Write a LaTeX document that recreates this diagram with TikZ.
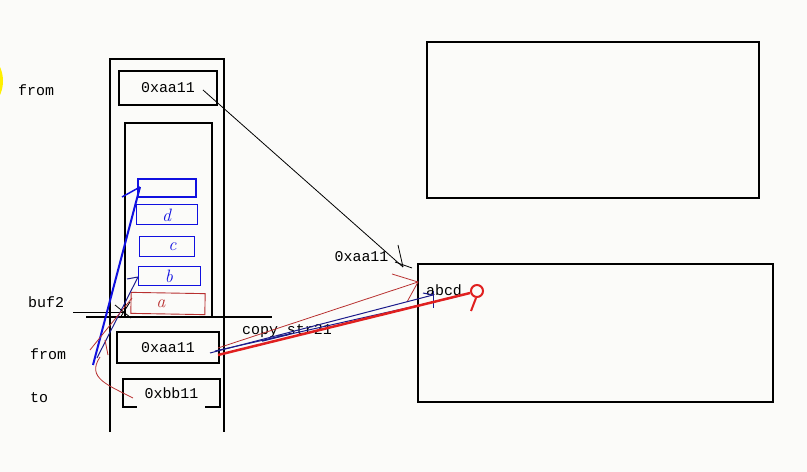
\documentclass[tikz,border=0pt]{standalone}
\usepackage{fontspec}
\setmonofont{Liberation Mono}
\begin{document}
\begin{tikzpicture}[x=1bp,y=-1bp,
  mono/.style={font=\fontsize{15}{15}\selectfont\ttfamily, inner sep=0pt},
  hand/.style={font=\fontsize{18}{18}\selectfont\itshape, inner sep=0pt},
  memrect/.style={draw=black, line width=1.1bp, inner sep=0pt},
  varbox/.style={draw=black, line width=2bp, inner sep=0pt},
  cellbox/.style={draw=cellblue, line width=1bp, inner sep=0pt},
  thinline/.style={line width=0.8bp},
]
\definecolor{bg}{HTML}{FBFBF9}
\definecolor{cellblue}{HTML}{1010E0}
\definecolor{navy}{HTML}{1C1C8C}
\definecolor{handred}{HTML}{B83030}
\definecolor{brightred}{HTML}{E02020}
\definecolor{yel}{HTML}{FFF000}
\fill[bg] (0,0) rectangle (807,472);
\useasboundingbox (0,0) rectangle (807,472);
\begin{scope}
\clip (0,0) rectangle (807,472);
\fill[yel] (-31,81) circle (34);
\end{scope}

% labels
\node[mono, anchor=west] (lfrom1) at (18,90) {from};
\node[mono, anchor=west] (lbuf) at (28,302) {buf2};
\node[mono, anchor=west] (lfrom2) at (30,354) {from};
\node[mono, anchor=west] (lto) at (30,398) {to};

% stack frame
\draw[line width=1.1bp] (110,432) -- (110,59) -- (224,59) -- (224,432);
\node[memrect, minimum width=98bp, minimum height=34bp, mono] (topbox) at (168,88) {0xaa11};
\draw[line width=1.1bp] (125,317) -- (125,123) -- (212,123) -- (212,317);
\draw[line width=2bp] (86,317) -- (272,317);
\draw[thinline] (73,312) -- (126,312);

% buffer cells
\node[cellbox, line width=2bp, minimum width=58bp, minimum height=18bp] (c1) at (167,188) {};
\node[cellbox, minimum width=61bp, minimum height=20bp, text=cellblue, hand] (cd) at (166.5,215) {d};
\node[cellbox, minimum width=55bp, minimum height=20bp, text=cellblue, hand] (cc) at (166.5,247) {\hspace{12bp}c};
\node[cellbox, minimum width=62bp, minimum height=19bp, text=cellblue, hand] (cb) at (169,276.5) {b};
\node[draw=handred, line width=0.9bp, minimum width=74bp, minimum height=21bp, inner sep=0pt, text=handred, hand, rotate=-1] (ca) at (168,303.5) {\hspace{-14bp}a};

% variables
\node[varbox, minimum width=102bp, minimum height=31bp, mono] (vfrom) at (168,347.5) {0xaa11};
\node[inner sep=0pt, minimum width=97bp, minimum height=28bp, mono] (vto) at (171.5,393) {0xbb11};
\draw[line width=2bp] ([xshift=14bp]vto.south west) -- (vto.south west) -- (vto.north west)
  -- (vto.north east) -- (vto.south east) -- ++(-15,0);

% heap memory
\node[memrect, minimum width=332bp, minimum height=156bp] (memtop) at (593,120) {};
\node[memrect, minimum width=355bp, minimum height=138bp] (membot) at (595.5,333) {};
\node[mono] (laddr) at (361.5,257) {0xaa11};
\node[mono] (labcd) at (444,290) {abcd};
\node[mono] (lcopy) at (287,331) {copy\_str21};

% black pointer arrow
\coordinate (pa) at (203,90);
\coordinate (pb) at (403,267);
\draw[thinline] (pa) -- (pb);
\draw[thinline] (398,245) -- (pb);
\draw[thinline] (395,262) -- (412,268);

% left hand-drawn lines
\coordinate (fb1) at (93,365);
\coordinate (fb2) at (140,187);
\draw[cellblue, line width=2bp] (fb1) -- (fb2);
\draw[cellblue, line width=1.5bp] (122,197) -- (fb2);
\coordinate (tb1) at (97,358);
\coordinate (tb2) at (138,277);
\draw[navy, line width=1bp] (tb1) -- (tb2);
\draw[navy, line width=1bp] (127,279) -- (tb2);
\draw[handred, thinline] (90,350) -- (132,298);
\draw[handred, thinline] (105,340) -- (108,355);
\draw[handred, thinline] (100,357) .. controls (86,378) and (108,385) .. (133,398);
\draw[thinline] (115,305) -- (131,318);
\draw[thinline] (120,318) -- (130,302);

% copy lines to heap
\coordinate (r1) at (218,348);
\coordinate (r2) at (418,282);
\draw[handred, thinline] (r1) -- (r2);
\draw[handred, thinline] (392,274) -- (r2) -- (407,302);
\coordinate (n1) at (210,353);
\coordinate (n2) at (433,295);
\coordinate (n3) at (215,351);
\coordinate (n4) at (460,296);
\draw[navy, line width=1bp] (n1) -- (n2);
\draw[navy, line width=1bp] (n3) -- (n4);
\draw[navy, line width=1.5bp] (262,341) -- (290,334);
\draw[navy, line width=1bp] (433,291) -- (433,308);
\draw[navy, line width=1bp] (423,293) -- (n2);
\coordinate (t1) at (218,355);
\coordinate (t2) at (470,293);
\draw[brightred, line width=2.5bp] (t1) -- (t2);
\node[draw=brightred, line width=2bp, circle, minimum size=12bp, inner sep=0pt] (rc) at (477,291) {};
\draw[brightred, line width=2bp] (476,298) -- (471,311);
\end{tikzpicture}
\end{document}
